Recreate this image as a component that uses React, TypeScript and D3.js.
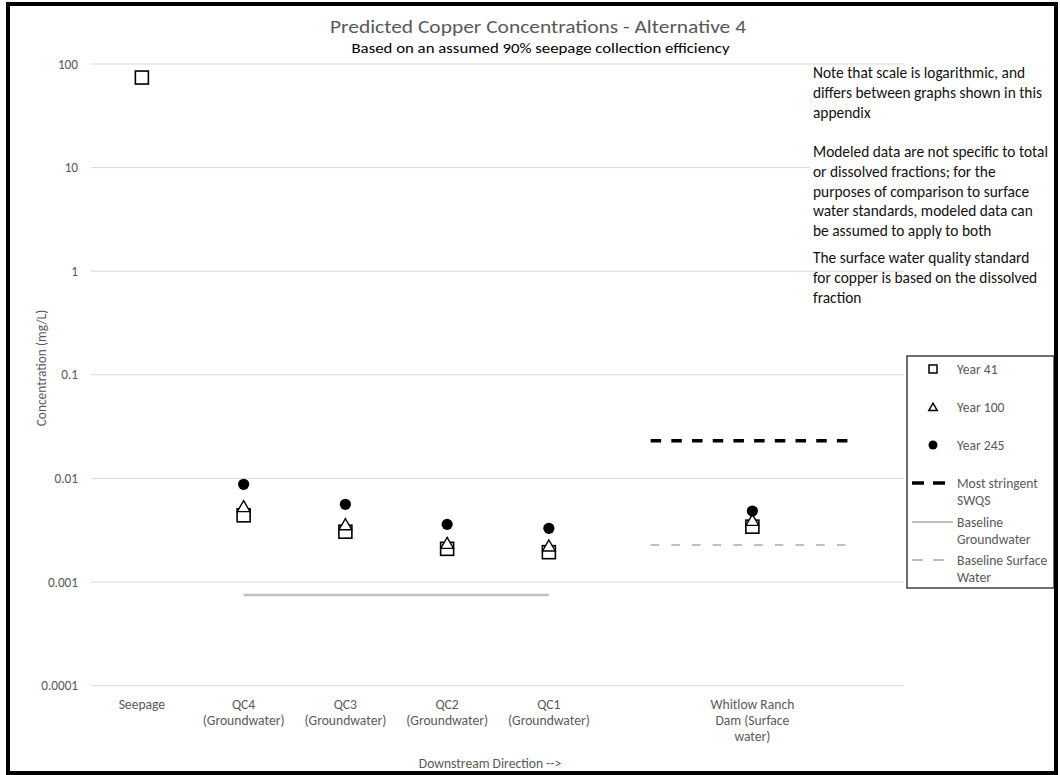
import React from "react";
import * as d3 from "d3";

// ---- data ----
const categories = [
  ["Seepage"],
  ["QC4", "(Groundwater)"],
  ["QC3", "(Groundwater)"],
  ["QC2", "(Groundwater)"],
  ["QC1", "(Groundwater)"],
  ["Whitlow Ranch", "Dam (Surface", "water)"],
];
const categoryX = [1, 2, 3, 4, 5, 7];
const year41 = [74, 0.0044, 0.00306, 0.00209, 0.00194, 0.00342];
const year100: (number | null)[] = [null, 0.00518, 0.00347, 0.00229, 0.00216, 0.00382];
const year245: (number | null)[] = [null, 0.00877, 0.00562, 0.0036, 0.0033, 0.00484];
const swqs = { x0: 6, x1: 8, value: 0.0231 };
const baselineGW = { x0: 2, x1: 5, value: 0.00075 };
const baselineSW = { x0: 6, x1: 8, value: 0.00228 };
const yTicks = [100, 10, 1, 0.1, 0.01, 0.001, 0.0001];
const yTickLabels = ["100", "10", "1", "0.1", "0.01", "0.001", "0.0001"];
const notes = [
  ["Note that scale is logarithmic, and", "differs between graphs shown in this", "appendix"],
  [
    "Modeled data are not specific to total",
    "or dissolved fractions; for the",
    "purposes of comparison to surface",
    "water standards, modeled data can",
    "be assumed to apply to both",
  ],
  ["The surface water quality standard", "for copper is based on the dissolved", "fraction"],
];
const title = "Predicted Copper Concentrations - Alternative 4";
const subtitle = "Based on an assumed 90% seepage collection efficiency";
const xTitle = "Downstream Direction -->";
const yTitle = "Concentration (mg/L)";

const FONT = "Carlito, Calibri, Lato, sans-serif";
const GRAY = "#595959";
const FS = 13.6;

export default function App() {
  const x = d3.scaleLinear().domain([0.5, 8.5]).range([91, 905]);
  const y = d3.scaleLog().domain([0.0001, 100]).range([685.6, 64]);

  const tri = d3.symbol().type(d3.symbolTriangle).size(70)()!;
  const triLeg = d3.symbol().type(d3.symbolTriangle).size(30)()!;

  const legendX = 907;
  const legendSym = 933;
  const legendText = 957;

  return (
    <svg
      width={1060}
      height={775}
      style={{ position: "absolute", left: 0, top: 0, background: "#fff" }}
      fontFamily={FONT}
    >
      <rect x={0} y={0} width={1060} height={775} fill="#fff" />
      {/* gridlines */}
      {yTicks.map((t, i) => (
        <g key={i}>
          <line x1={x(0.5)} x2={x(8.5) - 1} y1={y(t)} y2={y(t)} stroke="#d9d9d9" strokeWidth={1} />
          <text x={78} y={y(t)} dy="0.35em" textAnchor="end" fontSize={13.2} fill={GRAY}>
            {yTickLabels[i]}
          </text>
        </g>
      ))}

      {/* notes */}
      <rect x={810} y={140} width={240} height={100} fill="#fff" />
      {notes.map((para, pi) =>
        para.map((line, li) => (
          <text
            key={pi + "-" + li}
            x={813}
            y={[73, 152, 258][pi] + li * 19.6}
            dy="0.35em"
            fontSize={15.4}
            fill="#111"
          >
            {line}
          </text>
        ))
      )}

      {/* titles */}
      <text x={538} y={33} textAnchor="middle" fontSize={18.5} fill={GRAY} textLength={416} lengthAdjust="spacingAndGlyphs">
        {title}
      </text>
      <text x={540.5} y={53} textAnchor="middle" fontSize={15} fill="#000" textLength={378} lengthAdjust="spacingAndGlyphs">
        {subtitle}
      </text>

      {/* y title */}
      <text
        transform={`translate(41,368) rotate(-90)`}
        textAnchor="middle"
        dy="0.35em"
        fontSize={13.4}
        fill={GRAY}
      >
        {yTitle}
      </text>

      {/* x labels */}
      {categories.map((lines, i) =>
        lines.map((l, li) => (
          <text key={i + "-" + li} x={x(categoryX[i])} y={704 + li * 16} dy="0.35em" textAnchor="middle" fontSize={FS} fill={GRAY}>
            {l}
          </text>
        ))
      )}
      <text x={490} y={763} dy="0.35em" textAnchor="middle" fontSize={FS} fill={GRAY}>
        {xTitle}
      </text>

      {/* reference lines */}
      <line x1={x(baselineGW.x0)} x2={x(baselineGW.x1)} y1={y(baselineGW.value)} y2={y(baselineGW.value)} stroke="#bfbfbf" strokeWidth={2.5} />
      <line x1={x(swqs.x0)} x2={x(swqs.x1)} y1={y(swqs.value)} y2={y(swqs.value)} stroke="#000" strokeWidth={3.5} strokeDasharray="10.5 10.2" />
      <line x1={x(baselineSW.x0)} x2={x(baselineSW.x1)} y1={y(baselineSW.value)} y2={y(baselineSW.value)} stroke="#bfbfbf" strokeWidth={2} strokeDasharray="8.5 12.2" />

      {/* markers */}
      {year41.map((v, i) => (
        <rect key={"a" + i} x={x(categoryX[i]) - 6.5} y={y(v) - 6.5} width={13} height={13} fill="#fff" stroke="#000" strokeWidth={1.6} />
      ))}
      {year100.map((v, i) =>
        v == null ? null : (
          <path key={"b" + i} d={tri} transform={`translate(${x(categoryX[i])},${y(v)})`} fill="#fff" stroke="#000" strokeWidth={1.4} />
        )
      )}
      {year245.map((v, i) =>
        v == null ? null : <circle key={"c" + i} cx={x(categoryX[i])} cy={y(v)} r={5.6} fill="#000" />
      )}

      {/* legend */}
      <rect x={legendX} y={356} width={147} height={232} fill="#fff" stroke="#404040" strokeWidth={1.5} />
      <rect x={legendSym - 4} y={369 - 4} width={8} height={8} fill="#fff" stroke="#000" strokeWidth={1.5} />
      <text x={legendText} y={369} dy="0.35em" fontSize={FS} fill={GRAY}>Year 41</text>
      <path d={triLeg} transform={`translate(${legendSym},408)`} fill="#fff" stroke="#000" strokeWidth={1.5} />
      <text x={legendText} y={407} dy="0.35em" fontSize={FS} fill={GRAY}>Year 100</text>
      <circle cx={legendSym} cy={445} r={4.5} fill="#000" />
      <text x={legendText} y={445} dy="0.35em" fontSize={FS} fill={GRAY}>Year 245</text>

      <line x1={912} x2={946} y1={483} y2={483} stroke="#000" strokeWidth={3.5} strokeDasharray="12 9" />
      <text x={legendText} y={483} dy="0.35em" fontSize={FS} fill={GRAY}>Most stringent</text>
      <text x={legendText} y={500} dy="0.35em" fontSize={FS} fill={GRAY}>SWQS</text>

      <line x1={912} x2={953} y1={522} y2={522} stroke="#bfbfbf" strokeWidth={2} />
      <text x={legendText} y={522} dy="0.35em" fontSize={FS} fill={GRAY}>Baseline</text>
      <text x={legendText} y={539} dy="0.35em" fontSize={FS} fill={GRAY}>Groundwater</text>

      <line x1={912} x2={944} y1={560} y2={560} stroke="#bfbfbf" strokeWidth={2} strokeDasharray="11 10" />
      <text x={legendText} y={560} dy="0.35em" fontSize={FS} fill={GRAY}>Baseline Surface</text>
      <text x={legendText} y={577} dy="0.35em" fontSize={FS} fill={GRAY}>Water</text>

      {/* frame */}
      <rect x={8} y={4} width={1048} height={769} fill="none" stroke="#000" strokeWidth={4} />
    </svg>
  );
}
